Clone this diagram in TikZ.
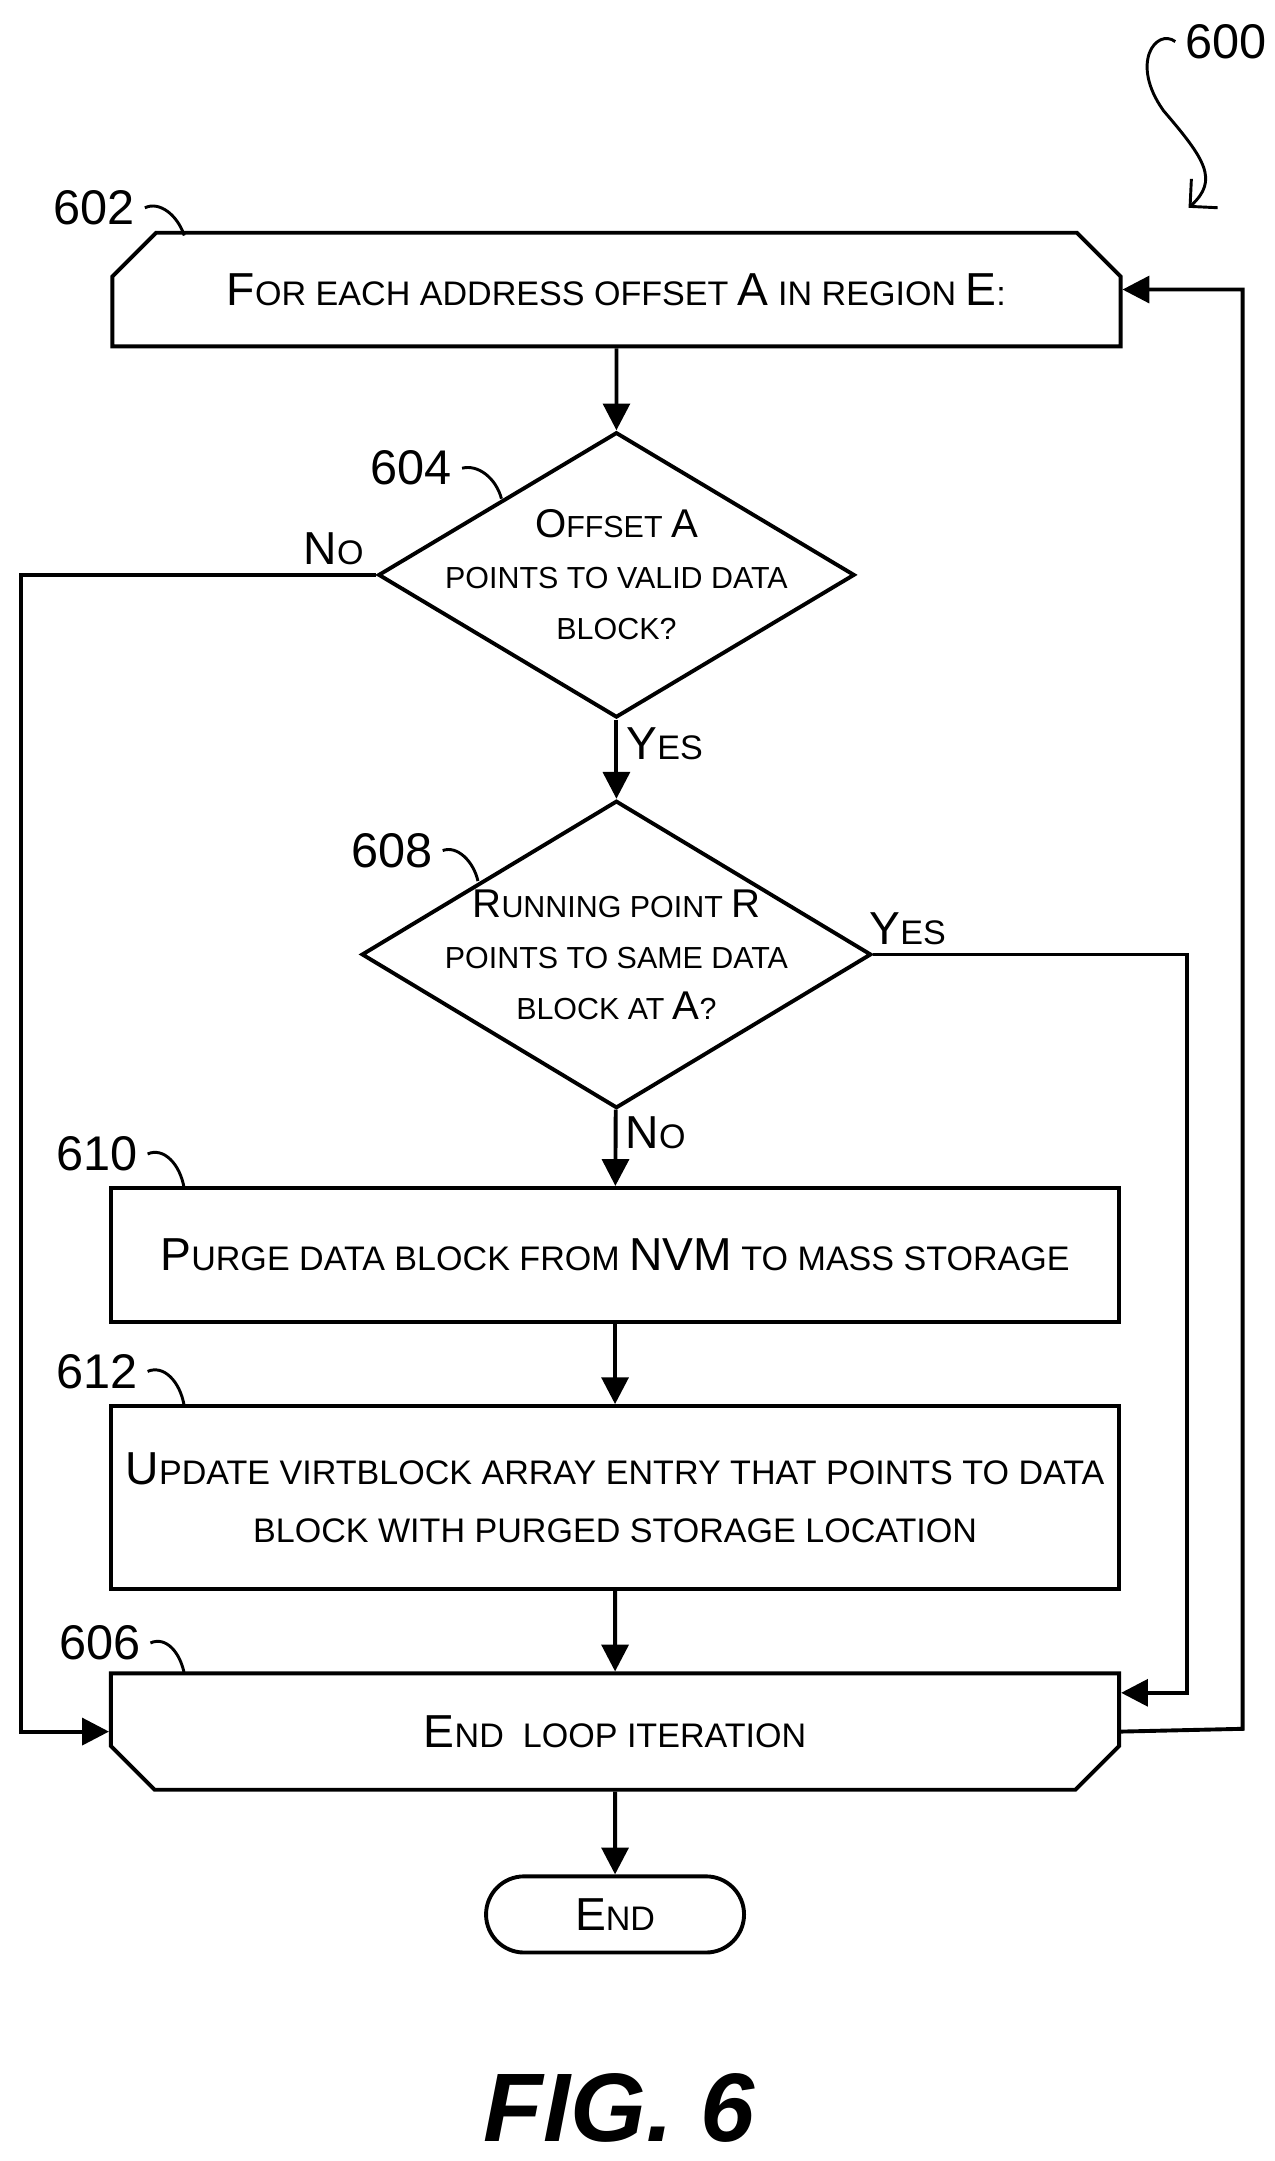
\documentclass[tikz,border=0pt]{standalone}
\usepackage{fontspec}
\setmainfont{Liberation Sans}
\usetikzlibrary{shapes.geometric,shapes.misc,arrows.meta}
\newcommand{\Cp}[1]{{\fontsize{19}{22}\selectfont #1}}
\newcommand{\Cd}[1]{{\fontsize{16.5}{20}\selectfont #1}}
\begin{document}
\begin{tikzpicture}[x=0.02cm,y=-0.02cm,line width=1.6pt,
  box/.style={draw,rectangle,minimum width=14.56cm,inner sep=0pt,font=\fontsize{14}{24}\selectfont,align=center},
  loop/.style={box,chamfered rectangle,chamfered rectangle xsep=0.4cm,chamfered rectangle ysep=0.4cm},
  dec/.style={draw,diamond,inner sep=0pt},
  dtxt/.style={font=\fontsize{12.5}{21}\selectfont,align=center},
  arr/.style={-{Triangle[length=11pt,width=11pt]}},
  ref/.style={font=\fontsize{20}{24}\selectfont},
  lbl/.style={font=\fontsize{14}{18}\selectfont},
  tag/.style={line width=1.2pt}]
\useasboundingbox (0,0) rectangle (920,1560);
% boxes
\node (n602) [loop,chamfered rectangle corners={north west,north east},minimum height=1.64cm] at (445,209) {\Cp{F}OR EACH ADDRESS OFFSET \Cp{A} IN REGION \Cp{E}:};
\node (n604) [dec,minimum width=6.88cm,minimum height=4.12cm] at (445,415) {};
\node (t604) [dtxt] at (445,415) {\Cd{O}FFSET \Cd{A}\\POINTS TO VALID DATA\\BLOCK?};
\node (n608) [dec,minimum width=7.36cm,minimum height=4.44cm] at (445,689) {};
\node (t608) [dtxt] at (445,689) {\Cd{R}UNNING POINT \Cd{R}\\POINTS TO SAME DATA\\BLOCK AT \Cd{A}?};
\node (n610) [box,minimum height=1.94cm] at (444,906) {\Cp{P}URGE DATA BLOCK FROM \Cp{NVM} TO MASS STORAGE};
\node (n612) [box,minimum height=2.64cm] at (444,1081) {\Cp{U}PDATE VIRTBLOCK ARRAY ENTRY THAT POINTS TO DATA\\BLOCK WITH PURGED STORAGE LOCATION};
\node (n606) [loop,chamfered rectangle corners={south west,south east},minimum height=1.68cm] at (444,1250) {\Cp{E}ND\ \ LOOP ITERATION};
\node (end) [draw,rounded rectangle,minimum width=3.96cm,minimum height=1.1cm,font=\fontsize{14}{18}\selectfont] at (444,1382) {\Cp{E}ND};
\node (fig) [font=\fontsize{40}{46}\selectfont\bfseries\itshape] at (447,1522) {FIG. 6};
% connectors
\draw[arr] (n602) -- (n604);
\draw[arr] (n604) -- node[right,lbl,pos=0.3] {\Cp{Y}ES} (n608);
\draw[arr] (n608) -- node[right,lbl,pos=0.3] {\Cp{N}O} (n610);
\draw[arr] (n610) -- (n612);
\draw[arr] (n612) -- (n606);
\draw[arr] (n606) -- (end);
\coordinate (lno) at (15,415);
\draw[arr] (n604.west) -- node[above,pos=0.12,lbl] {\Cp{N}O} (lno) |- (n606.west);
\coordinate (ryes) at (857,689);
\draw[arr] (n608.east) -- node[above,pos=0.11,lbl] {\Cp{Y}ES} (ryes) |- ([yshift=0.56cm]n606.east);
\coordinate (rloop) at (897,1248);
\draw[arr] (n606.east) -- (rloop) |- (n602.east);
% reference numerals
\node (r600) [ref] at (885,30) {600};
\node (r602) [ref] at (68,150) {602};
\node (r604) [ref] at (297,338) {604};
\node (r608) [ref] at (283,614) {608};
\node (r610) [ref] at (70,833) {610};
\node (r612) [ref] at (70,990) {612};
\node (r606) [ref] at (72,1186) {606};
\draw[tag,-{Straight Barb[length=8pt]}] (r600.west) .. controls (835,20) and (815,45) .. (840,80) .. controls (870,115) and (880,130) .. (858,150);
\draw[tag] (r602.east) .. controls (115,145) and (128,155) .. (133,170);
\draw[tag] (r604.east) .. controls (345,335) and (358,345) .. (362,360);
\draw[tag] (r608.east) .. controls (330,610) and (342,622) .. (345,636);
\draw[tag] (r610.east) .. controls (118,828) and (130,840) .. (133,858);
\draw[tag] (r612.east) .. controls (118,985) and (130,997) .. (133,1015);
\draw[tag] (r606.east) .. controls (120,1181) and (130,1193) .. (133,1208);
\end{tikzpicture}
\end{document}
